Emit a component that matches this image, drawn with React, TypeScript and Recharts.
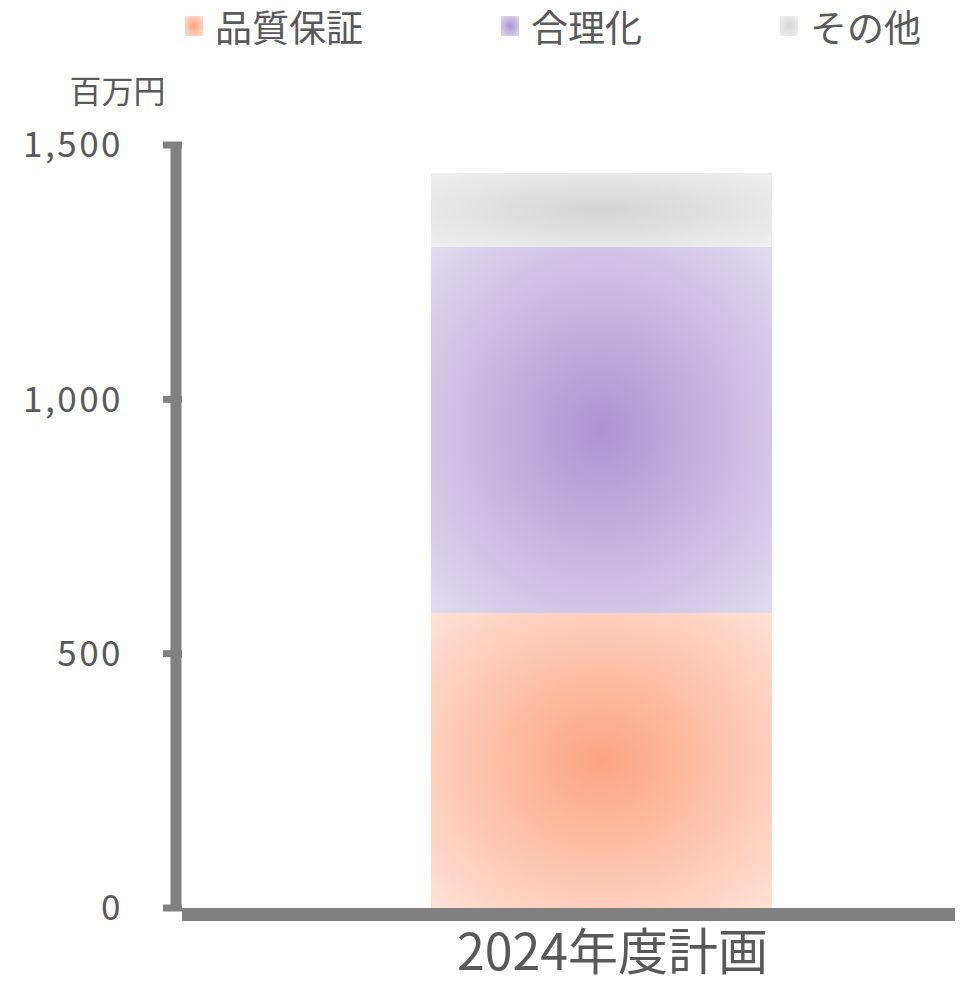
import * as React from "react";
import { BarChart, Bar, XAxis, YAxis, Legend } from "recharts";

const categories = ["2024年度計画"];
const seriesNames = ["品質保証", "合理化", "その他"];
const qualityValues = [580];
const rationalValues = [720];
const otherValues = [145];
const yTicks = [0, 500, 1000, 1500];

// centre / edge colours of each radial fill
const gradients = [
  { id: "gQuality", inner: "#FCA480", outer: "#FFE2D8" },
  { id: "gRational", inner: "#AC94D2", outer: "#E2DCF0" },
  { id: "gOther", inner: "#D4D4D4", outer: "#F0F0F0" },
];

const data = categories.map((name, i) => ({
  name,
  [seriesNames[0]]: qualityValues[i],
  [seriesNames[1]]: rationalValues[i],
  [seriesNames[2]]: otherValues[i],
}));

const FONT = '"Noto Sans CJK JP", "Noto Sans", sans-serif';
const TEXT = "#595959";
const AXIS = "#808080";

function LegendContent() {
  return (
    <div style={{ display: "flex", alignItems: "center", gap: 138, paddingLeft: 177, fontFamily: FONT }}>
      {seriesNames.map((n, i) => (
        <div key={n} style={{ display: "flex", alignItems: "center", height: 36 }}>
          <span
            style={{
              display: "inline-block",
              width: 18,
              height: 20,
              marginRight: 12,
              background: `radial-gradient(${gradients[i].inner}, ${gradients[i].outer})`,
            }}
          />
          <span style={{ fontSize: 37, lineHeight: "36px", color: TEXT }}>{n}</span>
        </div>
      ))}
    </div>
  );
}

function CategoryTick(props: any) {
  const { x, y, payload } = props;
  return (
    <text x={x + 11} y={y + 40} textAnchor="middle" dominantBaseline="central" fill={TEXT} fontSize={50} fontFamily={FONT}>
      {payload.value}
    </text>
  );
}

function UnitLabel(props: any) {
  const { viewBox } = props;
  return (
    <text
      x={viewBox.x + viewBox.width - 64.5}
      y={viewBox.y - 56}
      textAnchor="middle"
      dominantBaseline="central"
      fill={TEXT}
      fontSize={32}
      fontFamily={FONT}
    >
      百万円
    </text>
  );
}

export default function App() {
  return (
    <div style={{ width: 960, height: 976, background: "#fff" }}>
      <BarChart width={960} height={976} data={data} margin={{ top: 137, right: 13, bottom: 6, left: 0 }}>
        <defs>
          {gradients.map((g) => (
            <radialGradient key={g.id} id={g.id} cx="0.5" cy="0.5" r="0.72">
              <stop offset="0%" stopColor={g.inner} />
              <stop offset="100%" stopColor={g.outer} />
            </radialGradient>
          ))}
        </defs>
        <XAxis
          dataKey="name"
          height={70}
          padding={{ left: 66, right: 0 }}
          tickLine={false}
          tickSize={0}
          tickMargin={0}
          axisLine={{ stroke: AXIS, strokeWidth: 13, transform: "translate(0,6.5)" }}
          tick={<CategoryTick />}
        />
        <YAxis
          width={174}
          domain={[0, 1500]}
          ticks={yTicks}
          tickFormatter={(v: number) => v.toLocaleString("en-US")}
          axisLine={{ stroke: AXIS, strokeWidth: 11, transform: "translate(-6,0)" }}
          tickLine={{ stroke: AXIS, strokeWidth: 7 }}
          tickSize={19}
          tickMargin={40}
          tick={{ fill: TEXT, fontSize: 35, fontFamily: FONT, letterSpacing: 2.5 }}
          label={<UnitLabel />}
        />
        <Legend
          verticalAlign="middle"
          align="center"
          content={<LegendContent />}
          wrapperStyle={{ top: 0, left: 0, width: 960 }}
        />
        {seriesNames.map((n, i) => (
          <Bar
            key={n}
            dataKey={n}
            stackId="a"
            barSize={341}
            fill={`url(#${gradients[i].id})`}
            isAnimationActive={false}
          />
        ))}
      </BarChart>
    </div>
  );
}
